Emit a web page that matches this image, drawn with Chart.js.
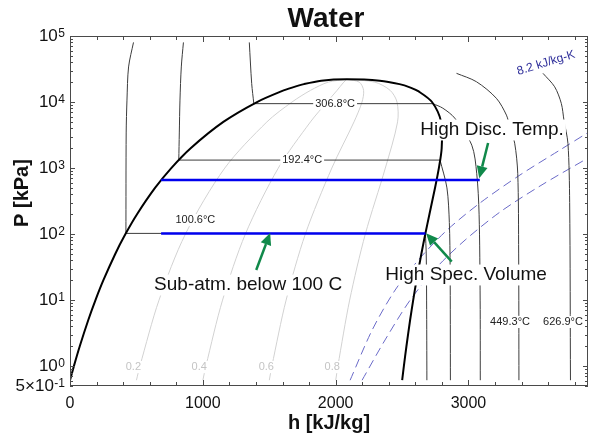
<!DOCTYPE html>
<html>
<head>
<meta charset="utf-8">
<script src="https://cdn.jsdelivr.net/npm/chart.js@4.4.1/dist/chart.umd.min.js"></script>
<style>
  html, body { margin: 0; padding: 0; background: #fff; }
  canvas { display: block; }
</style>
</head>
<body>
<canvas id="phChart" width="589" height="436"></canvas>
<script>
// saturation dome (kPa, kJ/kg)
var pSat    = [0.6117, 1, 2, 5, 10, 20, 50, 100, 200, 500, 1000, 2000, 5000, 10000, 14601, 16529, 18666, 21044, 22064];
var hSatLiq = [0, 29.3, 73.4, 137.7, 191.8, 251.4, 340.5, 417.4, 504.7, 640.1, 762.5, 908.5, 1154.5, 1408.1, 1594.5, 1671.9, 1761.5, 1890.7, 2084.3];
var hSatVap = [2500.9, 2513.7, 2533.0, 2560.7, 2583.9, 2608.9, 2645.2, 2674.9, 2706.2, 2748.1, 2777.1, 2798.3, 2794.2, 2725.5, 2621.8, 2563.6, 2481.0, 2332.7, 2084.3];

// quality lines
var pQual = [0.6117, 1, 10, 100, 1000, 5000, 10000, 15000, 20000, 22064];
var hQ02 = [500.2, 526.2, 670.2, 868.9, 1165.4, 1482.4, 1671.6, 1810.4, 1944.2, 2084.3];
var hQ04 = [1000.4, 1023.1, 1148.6, 1320.4, 1568.3, 1810.4, 1935.1, 2010.5, 2061.2, 2084.3];
var hQ06 = [1500.5, 1519.9, 1627.1, 1771.9, 1971.3, 2138.3, 2198.5, 2210.5, 2178.3, 2084.3];
var hQ08 = [2000.7, 2016.8, 2105.5, 2223.4, 2374.2, 2466.3, 2462.0, 2410.6, 2295.3, 2084.3];
var qualLabels = ['0.2', '0.4', '0.6', '0.8'];

// isotherms: liquid branch and vapour branch
var t100LiqH = [478, 441, 429, 423, 421];
var t100LiqP = [80000, 34000, 10700, 3400, 102.4];
var t100VapH = [2676, 2682, 2685, 2687];
var t100VapP = [102.4, 50, 10, 0.6117];

var t192LiqH = [854, 838, 828, 823, 819];
var t192LiqP = [80000, 34000, 10700, 3400, 1320];
var t192VapH = [2786, 2838, 2856, 2862, 2864];
var t192VapP = [1320, 500, 150, 30, 0.6117];

var t306LiqH = [1350, 1368, 1384];
var t306LiqP = [80000, 19000, 9450];
var t306VapH = [2732, 2807, 2897, 3025, 3062, 3080, 3088, 3089];
var t306VapP = [9450, 8070, 5700, 2220, 834, 200, 10, 0.6117];

var t449H = [2910, 3060, 3210, 3286, 3311, 3348, 3371, 3378, 3380];
var t449P = [27200, 20300, 11400, 6330, 4200, 2380, 834, 50, 0.6117];

var t626H = [3561, 3649, 3699, 3719, 3749, 3762, 3768];
var t626P = [27200, 17000, 9530, 5310, 2360, 300, 0.6117];

var tempLabels = ['100.6°C', '192.4°C', '306.8°C', '449.3°C', '626.9°C'];

// isentropes (dashed)
var sLowH  = [2109, 2275, 2448, 2636, 2839, 3087, 3388, 3689, 3900];
var sLowP  = [0.6117, 3.52, 14.2, 43.4, 115, 296, 785, 1877, 3450];
var sHighH = [2199, 2372, 2561, 2764, 2975, 3238, 3539, 3900];
var sHighP = [0.6117, 2.49, 10.0, 31.8, 81.3, 216, 535, 1420];

// process lines (blue)
var highLineH = [686, 3085];
var highLineP = [660, 660];
var lowLineH  = [686, 2676];
var lowLineP  = [102.4, 102.4];

// axis ticks
var xTickValues = [0, 1000, 2000, 3000];
var xTickLabels = ['0', '1000', '2000', '3000'];
var yTickValues = [0.5, 1, 10, 100, 1000, 10000, 100000];
var yTickLabels = [['5×10', '-1'], ['10', '0'], ['10', '1'], ['10', '2'], ['10', '3'], ['10', '4'], ['10', '5']];

var FONT = '"Liberation Sans", Arial, Helvetica, sans-serif';

function pts(hs, ps) {
  return hs.map(function (h, i) { return { x: h, y: ps[i] }; });
}
function line(data, color, width, extra) {
  return Object.assign({
    data: data, showLine: true, borderColor: color, borderWidth: width,
    pointRadius: 0, fill: false, tension: 0
  }, extra || {});
}

var dome = pts(hSatLiq, pSat).concat(pts(hSatVap.slice(0, -1).reverse(), pSat.slice(0, -1).reverse()));

var isoColor = '#3c3c3c';
var datasets = [
  line(pts(highLineH, highLineP), '#0000ee', 2.5, { order: 0 }),
  line(pts(lowLineH, lowLineP), '#0000ee', 2.5, { order: 0 }),
  line(dome, '#000000', 2, { order: 1, tension: 0.3 }),

  line(pts(t100LiqH, t100LiqP), isoColor, 1, { order: 2, tension: 0.3 }),
  line([{ x: t100LiqH[4], y: t100LiqP[4] }, { x: t100VapH[0], y: t100VapP[0] }], isoColor, 1, { order: 2 }),
  line(pts(t100VapH, t100VapP), isoColor, 1, { order: 2, tension: 0.3 }),
  line(pts(t192LiqH, t192LiqP), isoColor, 1, { order: 2, tension: 0.3 }),
  line([{ x: t192LiqH[4], y: t192LiqP[4] }, { x: t192VapH[0], y: t192VapP[0] }], isoColor, 1, { order: 2 }),
  line(pts(t192VapH, t192VapP), isoColor, 1, { order: 2, tension: 0.3 }),
  line(pts(t306LiqH, t306LiqP), isoColor, 1, { order: 2, tension: 0.3 }),
  line([{ x: t306LiqH[2], y: t306LiqP[2] }, { x: t306VapH[0], y: t306VapP[0] }], isoColor, 1, { order: 2 }),
  line(pts(t306VapH, t306VapP), isoColor, 1, { order: 2, tension: 0.3 }),
  line(pts(t449H, t449P), isoColor, 1, { order: 2, tension: 0.3 }),
  line(pts(t626H, t626P), isoColor, 1, { order: 2, tension: 0.3 }),

  line(pts(sLowH, sLowP), '#6a6ac8', 1, { order: 3, tension: 0.3, borderDash: [9, 5] }),
  line(pts(sHighH, sHighP), '#6a6ac8', 1, { order: 3, tension: 0.3, borderDash: [9, 5] }),

  line(pts(hQ02, pQual), '#d2d2d2', 1, { order: 4, tension: 0.3 }),
  line(pts(hQ04, pQual), '#d2d2d2', 1, { order: 4, tension: 0.3 }),
  line(pts(hQ06, pQual), '#d2d2d2', 1, { order: 4, tension: 0.3 }),
  line(pts(hQ08, pQual), '#d2d2d2', 1, { order: 4, tension: 0.3 })
];

var annot = {
  id: 'annot',
  afterDatasetsDraw: function (chart) {
    var ctx = chart.ctx, a = chart.chartArea;
    var xs = chart.scales.x, ys = chart.scales.y;
    function px(h) { return xs.getPixelForValue(h); }
    function py(p) { return ys.getPixelForValue(p); }

    function boxText(str, h, p, size, color, bold) {
      ctx.save();
      ctx.font = (bold ? 'bold ' : '') + size + 'px ' + FONT;
      var w = ctx.measureText(str).width;
      var cx = px(h), cy = py(p);
      ctx.fillStyle = '#fff';
      ctx.fillRect(cx - w / 2 - 2, cy - size * 0.55, w + 4, size * 1.1);
      ctx.fillStyle = color;
      ctx.textAlign = 'center';
      ctx.textBaseline = 'middle';
      ctx.fillText(str, cx, cy);
      ctx.restore();
    }

    function arrow(h0, p0, h1, p1) {
      var x0 = px(h0), y0 = py(p0), x1 = px(h1), y1 = py(p1);
      var ang = Math.atan2(y1 - y0, x1 - x0);
      var hl = 12, hw = 5.5;
      var bx = x1 - hl * Math.cos(ang), by = y1 - hl * Math.sin(ang);
      ctx.save();
      ctx.strokeStyle = '#10894a';
      ctx.fillStyle = '#10894a';
      ctx.lineWidth = 2.5;
      ctx.beginPath();
      ctx.moveTo(x0, y0);
      ctx.lineTo(bx, by);
      ctx.stroke();
      ctx.beginPath();
      ctx.moveTo(x1, y1);
      ctx.lineTo(bx + hw * Math.sin(ang), by - hw * Math.cos(ang));
      ctx.lineTo(bx - hw * Math.sin(ang), by + hw * Math.cos(ang));
      ctx.closePath();
      ctx.fill();
      ctx.restore();
    }

    ctx.save();
    ctx.beginPath();
    ctx.rect(a.left, a.top, a.right - a.left, a.bottom - a.top);
    ctx.clip();

    // quality labels
    var qH = [477, 973, 1478, 1974];
    qualLabels.forEach(function (s, i) { boxText(s, qH[i], 0.97, 11, '#c4c4c4'); });

    // isotherm labels
    boxText(tempLabels[0], 944, 163, 11, '#222');
    boxText(tempLabels[1], 1748, t192LiqP[4], 11, '#222');
    boxText(tempLabels[2], 1996, t306LiqP[2], 11, '#222');
    boxText(tempLabels[3], 3313, 4.67, 11, '#222');
    boxText(tempLabels[4], 3712, 4.67, 11, '#222');

    // callouts
    boxText('High Disc. Temp.', 3178, 3770, 19, '#111');
    boxText('Sub-atm. below 100 C', 1341, 16.9, 19, '#111');
    boxText('High Spec. Volume', 2982, 24.0, 19, '#111');
    arrow(3148, 2400, 3081, 700);
    arrow(1402, 28.6, 1507, 104);
    arrow(2874, 38.2, 2681, 103);

    // isentrope label
    ctx.save();
    ctx.translate(px(3584), py(39000));
    ctx.rotate(-17 * Math.PI / 180);
    ctx.font = '12px ' + FONT;
    ctx.fillStyle = '#2e2e9a';
    ctx.textAlign = 'center';
    ctx.textBaseline = 'middle';
    ctx.fillText('8.2 kJ/kg-K', 0, 0);
    ctx.restore();
    ctx.restore();

    // frame
    ctx.save();
    ctx.strokeStyle = '#4a4a4a';
    ctx.lineWidth = 1;
    ctx.strokeRect(Math.round(a.left) + 0.5, Math.round(a.top) + 0.5,
      Math.round(a.right - a.left) - 1, Math.round(a.bottom - a.top) - 1);

    // inward ticks, x every 200
    ctx.beginPath();
    for (var h = 0; h <= 3900; h += 200) {
      var tx = Math.round(px(h)) + 0.5;
      var len = (h % 1000 === 0) ? 6 : 4;
      ctx.moveTo(tx, a.bottom); ctx.lineTo(tx, a.bottom - len);
      ctx.moveTo(tx, a.top); ctx.lineTo(tx, a.top + len);
    }
    // y minor/major ticks
    for (var e = -1; e <= 4; e++) {
      for (var m = 1; m <= 9; m++) {
        var v = m * Math.pow(10, e);
        if (v < 0.5 || v > 100000) continue;
        var ty = Math.round(py(v)) + 0.5;
        var l2 = (m === 1) ? 5 : 3;
        ctx.moveTo(a.left, ty); ctx.lineTo(a.left + l2, ty);
        ctx.moveTo(a.right, ty); ctx.lineTo(a.right - l2, ty);
      }
    }
    ctx.stroke();

    // tick labels
    ctx.fillStyle = '#111';
    ctx.font = '16px ' + FONT;
    ctx.textAlign = 'center';
    ctx.textBaseline = 'middle';
    xTickValues.forEach(function (v, i) { ctx.fillText(xTickLabels[i], px(v), a.bottom + 18); });

    yTickValues.forEach(function (v, i) {
      var yy = py(v);
      var right = a.left - 5;
      ctx.font = '12px ' + FONT;
      ctx.textAlign = 'right';
      ctx.textBaseline = 'alphabetic';
      var ew = ctx.measureText(yTickLabels[i][1]).width;
      ctx.fillText(yTickLabels[i][1], right, yy + 1);
      ctx.font = '17px ' + FONT;
      ctx.textBaseline = 'middle';
      ctx.fillText(yTickLabels[i][0], right - ew - 0.5, yy + 0.5);
    });

    // titles
    ctx.font = 'bold 28px ' + FONT;
    ctx.textAlign = 'center';
    ctx.fillText('Water', (a.left + a.right) / 2 - 3, 19);
    ctx.font = 'bold 20px ' + FONT;
    ctx.fillText('h [kJ/kg]', (a.left + a.right) / 2, 423);
    ctx.translate(22, 193);
    ctx.rotate(-Math.PI / 2);
    ctx.fillText('P [kPa]', 0, 0);
    ctx.restore();
  }
};

var ctx = document.getElementById('phChart').getContext('2d');
var phChart = new Chart(ctx, {
  type: 'scatter',
  data: { datasets: datasets },
  options: {
    responsive: false,
    animation: false,
    devicePixelRatio: 1,
    layout: { padding: { left: 70, right: 1, top: 36, bottom: 50 } },
    plugins: { legend: { display: false }, tooltip: { enabled: false }, title: { display: false } },
    elements: { point: { radius: 0 } },
    scales: {
      x: { type: 'linear', min: 0, max: 3900, ticks: { display: false }, grid: { display: false, drawTicks: false }, border: { display: false } },
      y: { type: 'logarithmic', min: 0.5, max: 100000, ticks: { display: false }, grid: { display: false, drawTicks: false }, border: { display: false } }
    }
  },
  plugins: [annot]
});
</script>
</body>
</html>
